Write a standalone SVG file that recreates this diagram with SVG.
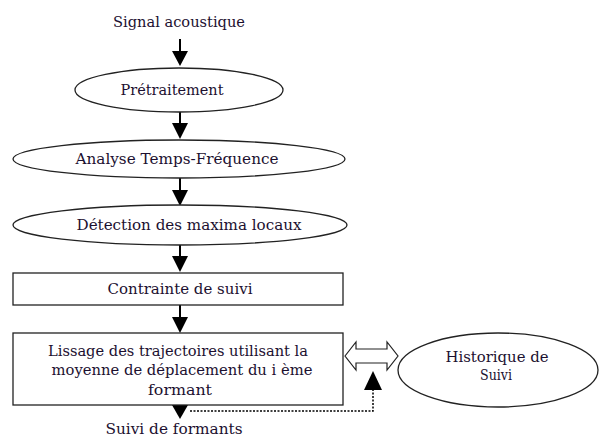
<svg xmlns="http://www.w3.org/2000/svg" width="599" height="436" viewBox="0 0 599 436">
<style>
text{font-family:'DejaVu Serif',serif;font-size:14px;fill:#1c1030;text-anchor:middle}
.n{fill:#fff;stroke:#222;stroke-width:1.3}
.s{stroke:#000;stroke-width:2;fill:none}
.h{fill:#000}
</style>
<rect width="599" height="436" fill="#fff"/>
<g id="connectors">
<line class="s" x1="180" y1="39" x2="180" y2="52"/><polygon class="h" points="172,51 188,51 180,66"/>
<line class="s" x1="180" y1="112" x2="180" y2="124"/><polygon class="h" points="172,123 188,123 180,139"/>
<line class="s" x1="180" y1="178" x2="180" y2="191"/><polygon class="h" points="172,190 188,190 180,206"/>
<line class="s" x1="180" y1="245" x2="180" y2="257"/><polygon class="h" points="172,256 188,256 180,272"/>
<line class="s" x1="180" y1="305" x2="180" y2="318"/><polygon class="h" points="172,317 188,317 180,333"/>
<polygon class="h" points="172,405 188,405 180,419"/>
<polyline points="190,411 373,411 373,390" fill="none" stroke="#000" stroke-width="1.5" stroke-dasharray="2,1.5"/>
<polygon class="h" points="364,390 382,390 373,371"/>
<polygon points="345,356 356,342 356,349 387,349 387,342 398,356 387,370 387,363 356,363 356,370" fill="#fff" stroke="#222" stroke-width="1.2"/>
</g>
<g id="signal"><text x="179" y="27" textLength="132" lengthAdjust="spacingAndGlyphs">Signal acoustique</text></g>
<g id="pretraitement"><ellipse class="n" cx="179" cy="90" rx="104" ry="22"/><text x="172" y="95" textLength="103" lengthAdjust="spacingAndGlyphs">Prétraitement</text></g>
<g id="analyse"><ellipse class="n" cx="179" cy="159" rx="166" ry="19"/><text x="177" y="164" textLength="203" lengthAdjust="spacingAndGlyphs">Analyse Temps-Fréquence</text></g>
<g id="detection"><ellipse class="n" cx="180" cy="225" rx="167" ry="20"/><text x="189" y="230" textLength="225" lengthAdjust="spacingAndGlyphs">Détection des maxima locaux</text></g>
<g id="contrainte"><rect class="n" x="13" y="273" width="330" height="32"/><text x="180" y="294" textLength="145" lengthAdjust="spacingAndGlyphs">Contrainte de suivi</text></g>
<g id="lissage"><rect class="n" x="13" y="333" width="330" height="72"/>
<text x="178" y="356" textLength="260" lengthAdjust="spacingAndGlyphs">Lissage des trajectoires utilisant la</text>
<text x="182" y="375" textLength="261" lengthAdjust="spacingAndGlyphs">moyenne de déplacement du i ème</text>
<text x="180" y="395" textLength="64" lengthAdjust="spacingAndGlyphs">formant</text></g>
<g id="historique"><ellipse class="n" cx="498" cy="370" rx="100" ry="37"/>
<text x="497" y="362" textLength="103" lengthAdjust="spacingAndGlyphs">Historique de</text>
<text x="496" y="380" textLength="32" lengthAdjust="spacingAndGlyphs">Suivi</text></g>
<g id="suivi"><text x="174" y="434" textLength="137" lengthAdjust="spacingAndGlyphs">Suivi de formants</text></g>
</svg>
